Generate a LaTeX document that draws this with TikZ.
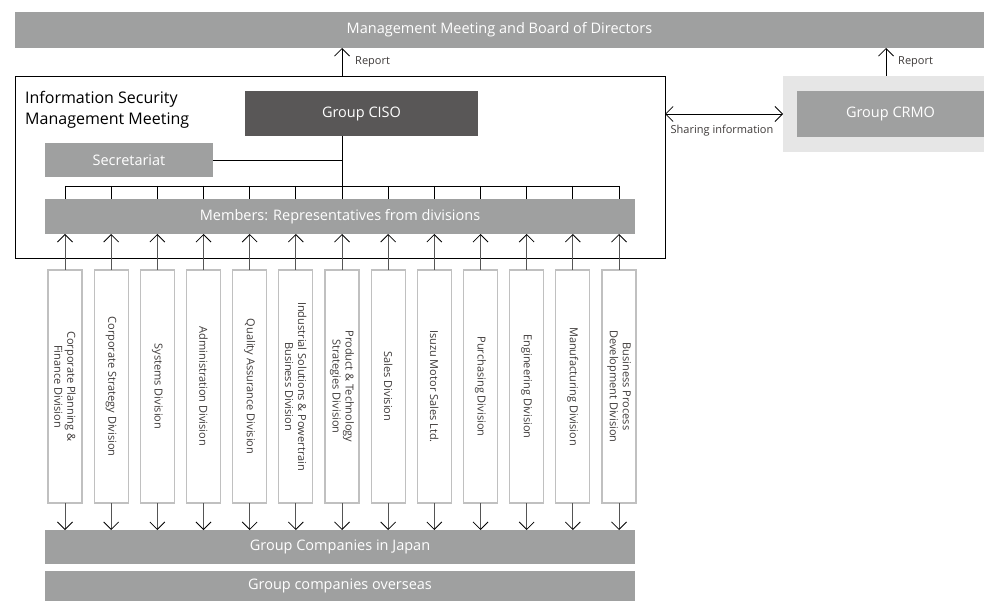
\documentclass[tikz,border=0pt]{standalone}
\usepackage{fontspec}
\setmainfont{Open Sans}
\usetikzlibrary{arrows.meta}
\definecolor{bargray}{HTML}{9FA0A0}
\definecolor{darkbox}{HTML}{595757}
\definecolor{lightbox}{HTML}{E6E6E6}
\definecolor{divline}{HTML}{C0C0C0}
\definecolor{txt}{HTML}{3E3A39}
\definecolor{arrline}{HTML}{555555}
\begin{document}
\begin{tikzpicture}[x=1pt,y=-1pt,
  bar/.style={fill=bargray, text=white, inner sep=0pt, outer sep=0pt, anchor=north west, font=\fontsize{14.5}{17}\selectfont},
  darkbar/.style={bar, fill=darkbox},
  divbox/.style={draw=divline, line width=1.2pt, fill=white, inner sep=0pt, outer sep=0pt, minimum width=34pt, minimum height=233pt, anchor=north},
  divtext/.style={rotate=-90, align=center, text=txt, inner sep=0pt, font=\fontsize{11}{13}\selectfont},
  small/.style={text=txt, inner sep=0pt, font=\fontsize{11}{13}\selectfont},
  conn/.style={line width=0.7pt, draw=black},
  arr/.style={conn, -{Straight Barb[length=7.5pt,width=15pt,line width=0.8pt]}},
  divarr/.style={conn, draw=arrline, -{Straight Barb[length=7.5pt,width=15pt,line width=0.8pt,color=black]}},
  darr/.style={conn, {Straight Barb[length=7.5pt,width=15pt,line width=0.8pt]}-{Straight Barb[length=7.5pt,width=15pt,line width=0.8pt]}}
]
\useasboundingbox (0,0) rectangle (984,601);
% boxes
\node[bar, minimum width=969pt, minimum height=36pt] (top) at (15,12) {Management Meeting and Board of Directors};
\node[draw=black, line width=0.8pt, inner sep=0pt, outer sep=0pt, anchor=north west, minimum width=650pt, minimum height=182pt] (ismm) at (15,76) {};
\node[anchor=base west, align=left, inner sep=0pt, text=black, font=\fontsize{16}{20.5}\selectfont] (title) at (25,124.5) {Information Security\\Management Meeting};
\node[darkbar, minimum width=233pt, minimum height=45pt] (ciso) at (245,91) {Group CISO};
\node[bar, minimum width=168pt, minimum height=34pt] (sec) at (45,143) {Secretariat};
\node[bar, minimum width=590pt, minimum height=35pt] (mem) at (45,199) {Members: Representatives from divisions};
\node[bar, minimum width=590pt, minimum height=34pt] (japan) at (45,530) {Group Companies in Japan};
\node[bar, minimum width=590pt, minimum height=30pt] (over) at (45,571) {Group companies overseas};
\node[fill=lightbox, inner sep=0pt, outer sep=0pt, anchor=north west, minimum width=201pt, minimum height=76pt] (crmoout) at (783,76) {};
\node[bar, minimum width=187pt, minimum height=46pt] (crmo) at (797,91) {Group CRMO};
% coordinates
\coordinate (c6) at (342,186);
\coordinate (hl) at (65,186);
\coordinate (hr) at (619,186);
\coordinate (rx) at (886,0);
% connectors
\draw[arr] (ismm.north -| c6) -- (top.south -| c6);
\node[small, anchor=west] (rep1) at (355,62) {Report};
\draw[arr] (crmoout.north -| rx) -- (top.south -| rx);
\node[small, anchor=west] (rep2) at (898,62) {Report};
\draw[darr] (ismm.east |- crmo.west) -- (crmoout.west |- crmo.west);
\node[small] (share) at (722,131) {Sharing information};
\draw[conn] (ciso.south -| c6) -- (c6);
\draw[conn] (sec.east) -- (sec.east -| c6);
\draw[conn] (hl) -- (hr);
\foreach \i/\t in {0/{Corporate Planning \&\\Finance Division},
                   1/{Corporate Strategy Division},
                   2/{Systems Division},
                   3/{Administration Division},
                   4/{Quality Assurance Division},
                   5/{Industrial Solutions \& Powertrain\\Business Division},
                   6/{Product \& Technology\\Strategies Division},
                   7/{Sales Division},
                   8/{Isuzu Motor Sales Ltd.},
                   9/{Purchasing Division},
                   10/{Engineering Division},
                   11/{Manufacturing Division},
                   12/{Business Process\\Development Division}} {
  \pgfmathsetmacro\xx{65+\i*46.1667}
  \coordinate (t\i) at (\xx,186);
  \node[divbox] (d\i) at (\xx,270) {};
  \node[divtext] (dt\i) at (d\i.center) {\t};
  \draw[conn] (t\i) -- (mem.north -| t\i);
  \draw[divarr] (d\i.north) -- (mem.south -| d\i.north);
  \draw[divarr] (d\i.south) -- (japan.north -| d\i.south);
}
\end{tikzpicture}
\end{document}
